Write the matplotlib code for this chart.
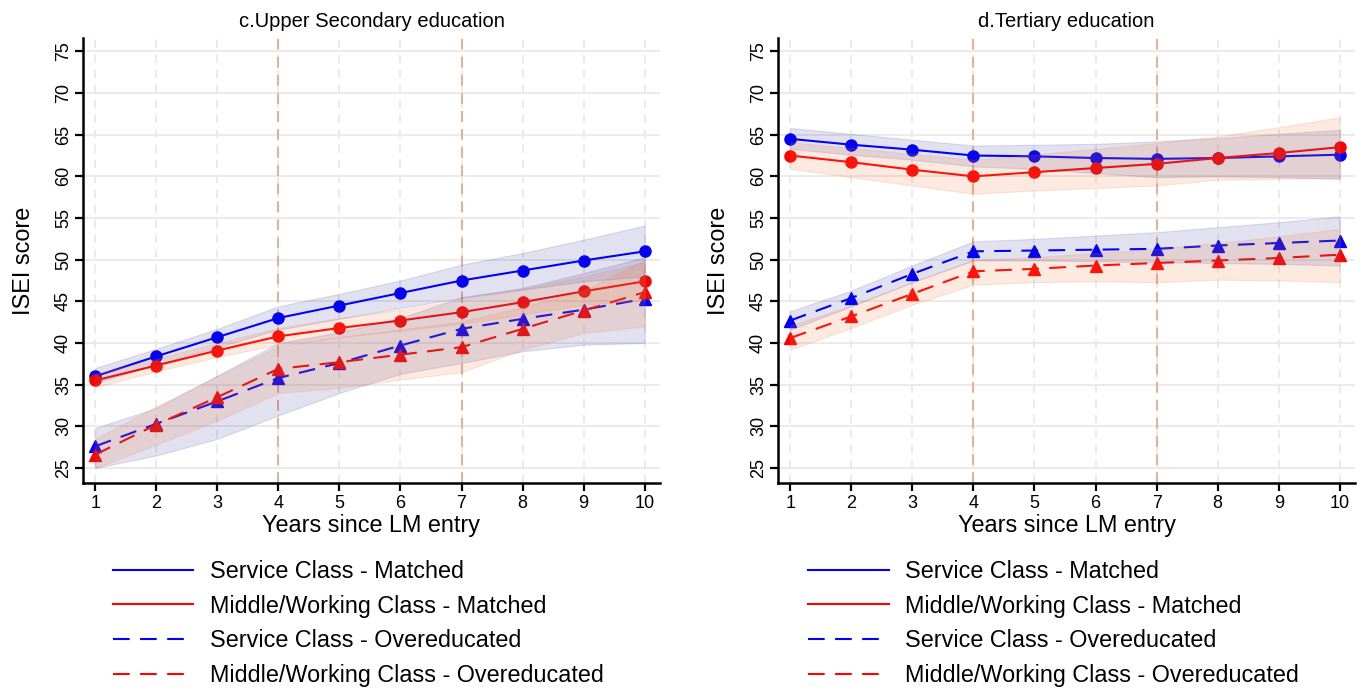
import matplotlib
matplotlib.use("Agg")
import matplotlib.pyplot as plt
from matplotlib.lines import Line2D

plt.rcParams['font.family'] = ['Liberation Sans', 'DejaVu Sans']

years = [1, 2, 3, 4, 5, 6, 7, 8, 9, 10]
yticks = [25, 30, 35, 40, 45, 50, 55, 60, 65, 70, 75]

# c. Upper Secondary education
c_serv_match = [36.0, 38.4, 40.7, 43.0, 44.5, 46.0, 47.5, 48.7, 49.9, 51.0]
c_serv_match_lo = [35.2, 37.4, 39.5, 41.6, 42.9, 44.2, 45.4, 46.4, 47.4, 48.0]
c_serv_match_hi = [37.0, 39.3, 41.7, 44.4, 45.9, 47.5, 49.4, 50.8, 52.4, 54.1]
c_mid_match = [35.5, 37.3, 39.1, 40.8, 41.8, 42.7, 43.7, 44.9, 46.2, 47.4]
c_mid_match_lo = [34.7, 36.6, 38.3, 39.8, 40.7, 41.5, 42.3, 43.4, 44.6, 45.1]
c_mid_match_hi = [36.3, 38.1, 40.0, 41.8, 43.0, 44.0, 45.2, 46.5, 48.0, 49.7]
c_serv_over = [27.6, 30.3, 33.0, 35.8, 37.6, 39.7, 41.7, 42.9, 44.0, 45.3]
c_serv_over_lo = [25.0, 26.5, 28.5, 31.3, 34.0, 36.3, 37.6, 39.0, 39.8, 40.0]
c_serv_over_hi = [29.8, 32.2, 36.1, 40.0, 41.3, 43.0, 45.5, 46.6, 48.4, 50.3]
c_mid_over = [26.6, 30.2, 33.5, 36.9, 37.7, 38.6, 39.5, 41.7, 43.9, 46.1]
c_mid_over_lo = [25.0, 27.8, 30.7, 34.0, 34.6, 35.6, 36.5, 39.2, 41.2, 42.0]
c_mid_over_hi = [28.5, 32.4, 36.0, 39.6, 40.7, 41.6, 42.6, 44.3, 46.3, 50.0]

# d. Tertiary education
d_serv_match = [64.5, 63.8, 63.2, 62.5, 62.4, 62.2, 62.1, 62.2, 62.4, 62.6]
d_serv_match_lo = [63.3, 62.6, 62.0, 61.2, 60.9, 60.4, 59.9, 60.0, 59.9, 59.7]
d_serv_match_hi = [65.8, 65.1, 64.4, 63.7, 63.8, 63.9, 64.2, 64.6, 65.1, 65.6]
d_mid_match = [62.5, 61.7, 60.8, 60.0, 60.5, 61.0, 61.5, 62.2, 62.8, 63.5]
d_mid_match_lo = [60.9, 59.9, 58.9, 57.9, 58.3, 58.6, 58.9, 59.6, 59.7, 59.8]
d_mid_match_hi = [64.1, 63.4, 62.7, 62.0, 62.6, 63.3, 64.0, 64.8, 65.9, 67.1]
d_serv_over = [42.7, 45.4, 48.3, 51.0, 51.1, 51.2, 51.3, 51.7, 52.0, 52.3]
d_serv_over_lo = [41.6, 44.4, 47.3, 49.9, 49.9, 49.8, 49.7, 49.6, 49.5, 49.3]
d_serv_over_hi = [43.8, 46.3, 49.3, 52.2, 52.5, 52.9, 53.3, 53.9, 54.5, 55.2]
d_mid_over = [40.6, 43.2, 45.9, 48.6, 48.9, 49.3, 49.6, 49.9, 50.2, 50.6]
d_mid_over_lo = [39.2, 41.8, 44.6, 47.0, 47.3, 47.4, 47.3, 47.6, 47.5, 47.3]
d_mid_over_hi = [42.1, 44.5, 47.3, 50.0, 50.3, 50.8, 51.3, 52.0, 52.8, 53.7]

titles = ['c.Upper Secondary education', 'd.Tertiary education']
legend_labels = ['Service Class - Matched', 'Middle/Working Class - Matched',
                 'Service Class - Overeducated', 'Middle/Working Class - Overeducated']

BLUE = '#0000FF'
RED = '#FF0000'
BAND_BLUE = '#1a1a8c'
BAND_ORANGE = '#f07a3a'
DASH = (0, (8, 5))


def draw_panel(ax, title, sm, sm_lo, sm_hi, mm, mm_lo, mm_hi, so, so_lo, so_hi, mo, mo_lo, mo_hi):
    # grid
    for y in yticks:
        ax.axhline(y, color='#e8e8e8', lw=1.2, zorder=0)
    for x in years:
        ax.axvline(x, color='#e8e8e8', lw=1.2, ls=(0, (5, 4)), zorder=0)
    for x in (4, 7):
        ax.axvline(x, color='#eaa88a', lw=1.3, ls=(0, (6, 4)), zorder=1)

    ax.plot(years, sm, color=BLUE, lw=1.5, marker='o', ms=8, zorder=3)
    ax.plot(years, mm, color=RED, lw=1.5, marker='o', ms=8, zorder=3)
    ax.plot(years, so, color=BLUE, lw=1.5, ls=DASH, marker='^', ms=9, zorder=3)
    ax.plot(years, mo, color=RED, lw=1.5, ls=DASH, marker='^', ms=9, zorder=3)

    # confidence bands drawn over the lines
    for lo, hi in ((sm_lo, sm_hi), (so_lo, so_hi)):
        ax.fill_between(years, lo, hi, facecolor=BAND_BLUE, alpha=0.13,
                        edgecolor=BAND_BLUE, lw=0.8, zorder=4)
    for lo, hi in ((mm_lo, mm_hi), (mo_lo, mo_hi)):
        ax.fill_between(years, lo, hi, facecolor=BAND_ORANGE, alpha=0.16,
                        edgecolor=BAND_ORANGE, lw=0.8, zorder=4)

    ax.set_xlim(0.8, 10.25)
    ax.set_ylim(23.2, 76.6)
    ax.set_xticks(years)
    ax.set_yticks(yticks)
    ax.tick_params(axis='y', labelrotation=90, labelsize=13, length=6, width=1.6, pad=2)
    ax.tick_params(axis='x', labelsize=13, length=6, width=1.6, pad=3)
    for lab in ax.get_yticklabels():
        lab.set_va('center')
    for s in ('top', 'right'):
        ax.spines[s].set_visible(False)
    ax.spines['left'].set_linewidth(1.8)
    ax.spines['bottom'].set_linewidth(1.8)
    ax.set_title(title, fontsize=14.5, pad=8)
    ax.set_xlabel('Years since LM entry', fontsize=16.8, labelpad=1)
    ax.set_ylabel('ISEI score', fontsize=16.8, labelpad=14)

    handles = [Line2D([], [], color=BLUE, lw=1.5),
               Line2D([], [], color=RED, lw=1.5),
               Line2D([], [], color=BLUE, lw=1.5, ls=DASH),
               Line2D([], [], color=RED, lw=1.5, ls=DASH)]
    ax.legend(handles, legend_labels, loc='upper left', bbox_to_anchor=(0.052, -0.173),
              frameon=False, fontsize=16.8, handlelength=3.45, handletextpad=0.72,
              labelspacing=0.5, borderaxespad=0, borderpad=0)


fig = plt.figure(figsize=(13.65, 6.89), dpi=100)
ax1 = fig.add_axes([0.0608, 0.2990, 0.4227, 0.6458])
ax2 = fig.add_axes([0.5700, 0.2990, 0.4227, 0.6458])

draw_panel(ax1, titles[0], c_serv_match, c_serv_match_lo, c_serv_match_hi,
           c_mid_match, c_mid_match_lo, c_mid_match_hi,
           c_serv_over, c_serv_over_lo, c_serv_over_hi,
           c_mid_over, c_mid_over_lo, c_mid_over_hi)
draw_panel(ax2, titles[1], d_serv_match, d_serv_match_lo, d_serv_match_hi,
           d_mid_match, d_mid_match_lo, d_mid_match_hi,
           d_serv_over, d_serv_over_lo, d_serv_over_hi,
           d_mid_over, d_mid_over_lo, d_mid_over_hi)

fig.savefig('out.png', dpi=100)
